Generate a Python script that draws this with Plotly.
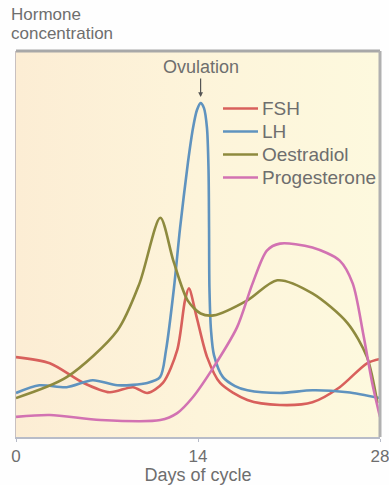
import plotly.graph_objects as go

# Days of cycle / hormone concentration (arbitrary units 0-100)
fsh_days = [0, 2.6, 5.2, 7.2, 9.0, 10.1, 11.3, 12.4, 13.0, 13.3, 13.9, 14.7, 15.7, 17.8, 20.3, 22.8, 24.9, 27.0, 28]
fsh_vals = [20.7, 19.1, 14.0, 11.6, 12.9, 11.4, 14.0, 22.5, 35.4, 38.5, 31.0, 20.7, 14.0, 9.6, 8.3, 9.0, 12.9, 19.1, 20.2]

lh_days = [0, 1.8, 3.9, 5.9, 7.8, 10.1, 11.08, 11.54, 12.15, 12.62, 13.23, 13.62, 13.92, 14.2, 14.46, 14.69,
           14.81, 14.85, 14.88, 15.0, 15.23, 15.92, 16.85, 17.8, 20.3, 22.8, 25.5, 28]
lh_vals = [11.4, 13.4, 12.9, 14.7, 13.4, 14.0, 15.5, 22.5, 38.6, 54.1, 71.2, 80.1, 84.7, 86.5, 85.2, 80.1,
           69.2, 54.1, 38.6, 27.7, 21.2, 15.5, 13.2, 12.1, 11.4, 12.1, 11.6, 10.1]

oes_days = [0, 3.9, 7.8, 9.5, 11.1, 12.1, 13.2, 14.2, 15.2, 17.8, 20.1, 22.8, 25.5, 27.0, 27.8]
oes_vals = [10.1, 15.5, 27.6, 39.8, 56.8, 45.7, 35.4, 32.0, 31.5, 35.4, 40.6, 37.2, 29.5, 20.7, 8.8]

prog_days = [0, 2.6, 6.5, 11.1, 12.4, 13.6, 15.2, 17.0, 18.2, 19.3, 20.3, 22.8, 24.9, 25.9, 26.7, 27.4, 28]
prog_vals = [5.2, 5.7, 4.4, 4.4, 6.2, 10.3, 18.1, 28.4, 39.8, 48.3, 50.1, 49.1, 45.7, 39.8, 26.9, 14.0, 5.2]

x_ticks = [0, 14, 28]
x_tick_labels = ["0", "14", "28"]
ovulation_day = 14.2
ovulation_peak = 86.5

series_names = ["FSH", "LH", "Oestradiol", "Progesterone"]
series_days = [fsh_days, lh_days, oes_days, prog_days]
series_vals = [fsh_vals, lh_vals, oes_vals, prog_vals]
series_colors = ["#d8605c", "#5f93bf", "#8e8a3e", "#d272b2"]

W, H = 389, 485
ML, MR, MT, MB = 16, 9, 51, 48
PW, PH = W - ML - MR, H - MT - MB


def px(xp):
    return (xp - ML) / PW


def py(yp):
    return (H - MB - yp) / PH


fig = go.Figure()

# cream background with a gentle left-to-right tint
fig.add_trace(go.Scatter(
    x=[0, 28, 28, 0, 0], y=[0, 0, 100, 100, 0], mode="lines", fill="toself",
    line=dict(width=0), showlegend=False, hoverinfo="skip",
    fillgradient=dict(type="horizontal",
                      colorscale=[[0, "#fcedd4"], [0.5, "#fdf4da"], [1, "#fdf9de"]]),
))

for name, xs, ys, col in zip(series_names, series_days, series_vals, series_colors):
    fig.add_trace(go.Scatter(
        x=xs, y=ys, mode="lines", name=name, showlegend=False,
        line=dict(color=col, width=2.6, shape="spline", smoothing=0.8),
    ))

TXT = "#6e6e6e"
FONT = "Liberation Sans, Arial, sans-serif"

fig.update_layout(
    width=W, height=H,
    margin=dict(l=ML, r=MR, t=MT, b=MB, autoexpand=False),
    paper_bgcolor="#fefefe",
    plot_bgcolor="#fdf4da",
    font=dict(family=FONT, color=TXT, size=17),
    showlegend=False,
    xaxis=dict(
        range=[0, 28], tickvals=x_ticks, ticktext=x_tick_labels,
        showgrid=False, zeroline=False, showline=True,
        linecolor="#b8bcc8", linewidth=1.5, ticks="outside", ticklen=3,
        tickcolor="#b8bcc8", tickfont=dict(size=17, color=TXT),
        ticklabeloverflow="allow", automargin=False,
        title=dict(text="Days of cycle", font=dict(size=18, color=TXT), standoff=0),
    ),
    yaxis=dict(
        range=[0, 100], showticklabels=False, showgrid=False, zeroline=False,
        showline=True, linecolor="#c8c0c0", linewidth=1, ticks="", automargin=False,
    ),
)

# frame: darker top and right edges like the reference
fig.add_shape(type="line", xref="paper", yref="paper", x0=0, x1=1, y0=1, y1=1,
              line=dict(color="#a8a8a8", width=3))
fig.add_shape(type="line", xref="paper", yref="paper", x0=1, x1=1, y0=0, y1=1,
              line=dict(color="#b0b0b0", width=3))

# legend (line sample + label), drawn inside the plot
leg_y = [108.5, 131.5, 154.5, 177.5]
for name, col, yy in zip(series_names, series_colors, leg_y):
    fig.add_shape(type="line", xref="paper", yref="paper",
                  x0=px(223), x1=px(258), y0=py(yy), y1=py(yy),
                  line=dict(color=col, width=2.6))
    fig.add_annotation(x=px(260), y=py(yy), xref="paper", yref="paper",
                       xanchor="left", yanchor="middle", showarrow=False,
                       text=name, font=dict(size=19, color=TXT))

fig.add_annotation(
    x=ovulation_day, y=ovulation_peak, xref="x", yref="y",
    text="Ovulation", showarrow=True, arrowhead=2, arrowsize=0.8, arrowwidth=1.2,
    arrowcolor="#555555", ax=0, ay=-30, yshift=6,
    font=dict(size=18, color=TXT),
)
fig.add_annotation(x=px(9), y=py(15), xref="paper", yref="paper",
                   xanchor="left", yanchor="middle", showarrow=False,
                   text="Hormone", font=dict(size=17, color=TXT))
fig.add_annotation(x=px(9), y=py(33.5), xref="paper", yref="paper",
                   xanchor="left", yanchor="middle", showarrow=False,
                   text="concentration", font=dict(size=17, color=TXT))

fig.write_html("out.html", config={"displayModeBar": False},
               post_script="document.body.style.margin='0px';")
